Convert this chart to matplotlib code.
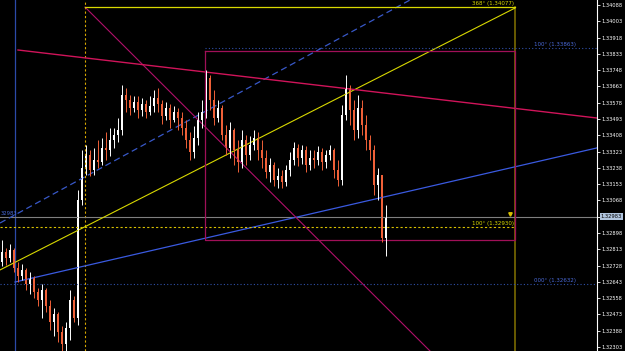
import matplotlib
matplotlib.use("Agg")
import matplotlib.pyplot as plt
import numpy as np

# --- candle data (bar index, price) ---
first_open = 1.32746
closes = [1.32799, 1.32767, 1.32809, 1.32715, 1.32673, 1.32705, 1.32632, 1.32663, 1.32590, 1.32548,
          1.32600, 1.32517, 1.32433, 1.32475, 1.32381, 1.32318, 1.32402, 1.32548, 1.32454, 1.33070,
          1.33237, 1.33305, 1.33227, 1.33279, 1.33268, 1.33342, 1.33331, 1.33383, 1.33409, 1.33435,
          1.33618, 1.33592, 1.33550, 1.33582, 1.33540, 1.33571, 1.33529, 1.33561, 1.33602, 1.33571,
          1.33508, 1.33550, 1.33488, 1.33529, 1.33498, 1.33446, 1.33383, 1.33321, 1.33394, 1.33488,
          1.33529, 1.33707, 1.33592, 1.33498, 1.33550, 1.33409, 1.33342, 1.33435, 1.33331, 1.33268,
          1.33383, 1.33305, 1.33357, 1.33394, 1.33331, 1.33289, 1.33216, 1.33253, 1.33174, 1.33195,
          1.33164, 1.33227, 1.33279, 1.33342, 1.33289, 1.33331, 1.33253, 1.33289, 1.33279, 1.33321,
          1.33268, 1.33305, 1.33331, 1.33227, 1.33174, 1.33514, 1.33655, 1.33540, 1.33435, 1.33550,
          1.33462, 1.33383, 1.33331, 1.33148, 1.33201, 1.32872, 1.32983]
highs = [1.32861, 1.32819, 1.32840, 1.32819, 1.32746, 1.32736, 1.32715, 1.32694, 1.32673, 1.32611,
         1.32632, 1.32611, 1.32548, 1.32506, 1.32485, 1.32412, 1.32433, 1.32600, 1.32569, 1.33122,
         1.33331, 1.33357, 1.33331, 1.33342, 1.33383, 1.33394, 1.33425, 1.33446, 1.33446, 1.33498,
         1.33670, 1.33655, 1.33618, 1.33613, 1.33613, 1.33602, 1.33592, 1.33613, 1.33644, 1.33655,
         1.33592, 1.33582, 1.33571, 1.33561, 1.33550, 1.33529, 1.33488, 1.33425, 1.33456, 1.33529,
         1.33592, 1.33749, 1.33723, 1.33644, 1.33592, 1.33566, 1.33462, 1.33477, 1.33446, 1.33383,
         1.33435, 1.33409, 1.33404, 1.33435, 1.33425, 1.33383, 1.33331, 1.33289, 1.33268, 1.33237,
         1.33227, 1.33253, 1.33321, 1.33373, 1.33362, 1.33357, 1.33352, 1.33331, 1.33331, 1.33352,
         1.33342, 1.33331, 1.33357, 1.33342, 1.33279, 1.33566, 1.33723, 1.33670, 1.33592, 1.33618,
         1.33592, 1.33514, 1.33409, 1.33357, 1.33237, 1.33174, 1.33044]
lows = [1.32725, 1.32731, 1.32746, 1.32694, 1.32642, 1.32652, 1.32600, 1.32579, 1.32558, 1.32517,
        1.32454, 1.32485, 1.32391, 1.32360, 1.32329, 1.32282, 1.32277, 1.32339, 1.32433, 1.32418,
        1.33044, 1.33201, 1.33195, 1.33201, 1.33237, 1.33253, 1.33279, 1.33300, 1.33342, 1.33373,
        1.33409, 1.33529, 1.33514, 1.33529, 1.33498, 1.33508, 1.33498, 1.33514, 1.33529, 1.33529,
        1.33467, 1.33488, 1.33446, 1.33477, 1.33435, 1.33409, 1.33342, 1.33279, 1.33289, 1.33357,
        1.33446, 1.33498, 1.33540, 1.33462, 1.33477, 1.33383, 1.33305, 1.33289, 1.33253, 1.33216,
        1.33237, 1.33253, 1.33279, 1.33331, 1.33279, 1.33237, 1.33185, 1.33164, 1.33143, 1.33133,
        1.33133, 1.33143, 1.33195, 1.33253, 1.33248, 1.33258, 1.33216, 1.33227, 1.33237, 1.33253,
        1.33227, 1.33237, 1.33279, 1.33185, 1.33143, 1.33148, 1.33488, 1.33462, 1.33383, 1.33394,
        1.33409, 1.33331, 1.33279, 1.33096, 1.33070, 1.32851, 1.32778]

# --- drawn objects (bar index, price) ---
trend_pink_t = [4.0, 148.75]
trend_pink_p = [1.33853, 1.33498]
diag_t = [20.75, 107.0]
diag_p = [1.34077, 1.32282]
yellow_t = [-0.5, 128.25]
yellow_p = [1.32705, 1.34072]
blue_dash_t = [-0.5, 102.0]
blue_dash_p = [1.32950, 1.34114]
blue_t = [3.25, 148.75]
blue_p = [1.32642, 1.33342]
vline_blue = 3.25
vline_fib = 20.75
fib_right = 128.25
rect_t = [50.75, 128.25]
rect_p = [1.33848, 1.32861]
fib_yellow = [1.34077, 1.32930]
fib_blue = [1.33863, 1.32632]
bid = 1.32983

ticks = [1.34088 - k * 0.00085 for k in range(22)]

fig = plt.figure(figsize=(6.25, 3.51), dpi=100, facecolor="black")
ax = fig.add_axes([0, 0, 597 / 625, 1])
ax.set_facecolor("black")
ax.set_xlim(-0.5, 148.75)
ax.set_ylim(1.32282, 1.34114)

# lines behind candles
ax.axvline(vline_blue, color="#2c4aa8", lw=0.9)
ax.axvline(vline_fib, color="#d8a800", lw=0.8, ls=(0, (2, 2)))
ax.plot([fib_right, fib_right], [fib_yellow[0], 1.32282], color="#7a6a00", lw=1.2)
ax.axhline(bid, color="#7f7f7f", lw=0.8)
ax.plot(blue_dash_t, blue_dash_p, color="#3858c8", lw=0.9, ls=(0, (5, 3)))
ax.plot(blue_t, blue_p, color="#3a5ae0", lw=0.9)
ax.plot(yellow_t, yellow_p, color="#d8d800", lw=0.8)
ax.plot(diag_t, diag_p, color="#b0106a", lw=0.8)
ax.plot(trend_pink_t, trend_pink_p, color="#d0145a", lw=1.0)

# fibo levels
ax.plot([vline_fib, fib_right], [fib_yellow[0]] * 2, color="#d8d800", lw=0.9)
ax.plot([-0.5, fib_right], [fib_yellow[1]] * 2, color="#d8c000", lw=0.8, ls=(0, (2, 2)))
ax.plot([rect_t[0], 148.75], [fib_blue[0]] * 2, color="#3050a8", lw=0.8, ls=(0, (1, 2)))
ax.plot([-0.5, 148.75], [fib_blue[1]] * 2, color="#3050a8", lw=0.8, ls=(0, (1, 2)))

# rectangle
rx = [rect_t[0], rect_t[1], rect_t[1], rect_t[0], rect_t[0]]
ry = [rect_p[0], rect_p[0], rect_p[1], rect_p[1], rect_p[0]]
ax.plot(rx, ry, color="#a01058", lw=0.9)

# candles
opens = [first_open] + closes[:-1]
for i, (o, c, h, l) in enumerate(zip(opens, closes, highs, lows)):
    col = "#ffffff" if c >= o else "#f06038"
    ax.vlines(i, l, h, color=col, lw=0.7)
    ax.bar(i, max(abs(c - o), 0.00003), bottom=min(o, c), width=0.55, color=col, lw=0)

# labels
fs = 4.0
ax.text(128.0, fib_yellow[0] + 0.00006, "368° (1.34077)", color="#d8d800", fontsize=fs, ha="right", va="bottom")
ax.text(128.0, fib_yellow[1] + 0.00006, "100° (1.32930)", color="#d8d800", fontsize=fs, ha="right", va="bottom")
ax.text(143.5, fib_blue[0] + 0.00005, "100° (1.33863)", color="#4a6ad8", fontsize=fs, ha="right", va="bottom")
ax.text(143.5, fib_blue[1] + 0.00005, "000° (1.32632)", color="#4a6ad8", fontsize=fs, ha="right", va="bottom")
ax.text(-0.4, bid + 0.00004, "32983", color="#4a6ad8", fontsize=3.8, ha="left", va="bottom")
ax.plot([127.0], [bid + 0.00015], marker="v", color="#d8c000", ms=2.5)

# right price axis
ax.yaxis.tick_right()
ax.set_yticks(ticks)
labels = [f"{t:.5f}" for t in ticks]
labels[13] = ""  # covered by the bid box
ax.set_yticklabels(labels)
ax.tick_params(axis="y", colors="white", labelsize=3.7, length=2.5, width=0.6, pad=1.0)
ax.set_xticks([])
for s in ["top", "bottom", "left"]:
    ax.spines[s].set_visible(False)
ax.spines["right"].set_color("white")
ax.spines["right"].set_linewidth(0.8)
ax.text(1.006, bid, "1.32983", transform=ax.get_yaxis_transform(), color="black", fontsize=3.7,
        ha="left", va="center", bbox=dict(boxstyle="square,pad=0.15", fc="#b0c4de", ec="none"), zorder=5)

fig.savefig("out.png", dpi=100, facecolor="black")
